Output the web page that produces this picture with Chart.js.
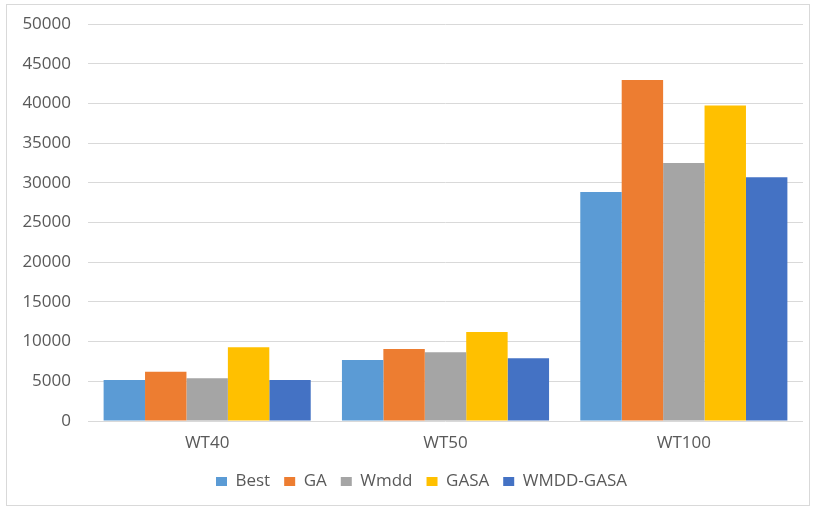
<!DOCTYPE html>
<html>
<head>
<meta charset="utf-8">
<script src="https://cdn.jsdelivr.net/npm/chart.js@4"></script>
<style>
  html, body { margin: 0; padding: 0; background: #fff; }
  #wrap { position: relative; width: 815px; height: 507px; }
  #frame { position: absolute; left: 6px; top: 4px; width: 804px; height: 502px;
           border: 1px solid #d9d9d9; box-sizing: border-box; pointer-events: none; }
</style>
</head>
<body>
<div id="wrap">
  <canvas id="BarChart" width="815" height="507"></canvas>
  <div id="frame"></div>
</div>
<script>
var categories = ["WT40", "WT50", "WT100"];
var seriesNames = ["Best", "GA", "Wmdd", "GASA", "WMDD-GASA"];
var best = [5170, 7680, 28850];
var ga = [6200, 9070, 42950];
var wmdd = [5380, 8650, 32500];
var gasa = [9280, 11210, 39720];
var wmddGasa = [5170, 7900, 30700];
var yTicks = [0, 5000, 10000, 15000, 20000, 25000, 30000, 35000, 40000, 45000, 50000];

var colors = ["#5B9BD5", "#ED7D31", "#A5A5A5", "#FFC000", "#4472C4"];
var allValues = [best, ga, wmdd, gasa, wmddGasa];

var datasets = [];
for (var i = 0; i < seriesNames.length; i++) {
    datasets.push({
        label: seriesNames[i],
        data: allValues[i],
        backgroundColor: colors[i],
        borderWidth: 0,
        categoryPercentage: 0.869,
        barPercentage: 1.0
    });
}

var textColor = "#595959";
var font = { family: "'Open Sans', sans-serif", size: 17 };

// excel puts the legend a bit right of the canvas centre
var legendShift = {
    id: "legendShift",
    beforeDraw: function (chart) {
        var lg = chart.legend;
        if (lg && !lg._shifted) {
            lg.left += 20;
            lg.right += 20;
            lg._shifted = true;
        }
    }
};

var ctx = document.getElementById("BarChart").getContext("2d");
var myChart = new Chart(ctx, {
    type: "bar",
    data: {
        labels: categories,
        datasets: datasets
    },
    plugins: [legendShift],
    options: {
        responsive: false,
        animation: false,
        layout: { padding: { left: 0, right: 12, top: 24, bottom: 7 } },
        plugins: {
            tooltip: { enabled: false },
            legend: {
                position: "bottom",
                labels: {
                    color: textColor,
                    font: font,
                    boxWidth: 11,
                    boxHeight: 9,
                    padding: 14
                }
            }
        },
        scales: {
            x: {
                grid: { display: false, drawTicks: false },
                border: { display: false },
                ticks: { color: textColor, font: font, padding: 12 },
                afterFit: function (scale) { scale.height = 38; }
            },
            y: {
                min: 0,
                max: 50000,
                afterBuildTicks: function (scale) {
                    scale.ticks = yTicks.map(function (v) { return { value: v }; });
                },
                grid: { color: "#D9D9D9", lineWidth: 1, drawTicks: false },
                border: { display: false },
                ticks: {
                    color: textColor, font: font, padding: 17,
                    callback: function (value) { return String(value); }
                },
                afterFit: function (scale) {
                    scale.width = 88;
                    scale.paddingTop = 0;
                    scale.paddingBottom = 0;
                }
            }
        }
    }
});
</script>
</body>
</html>
